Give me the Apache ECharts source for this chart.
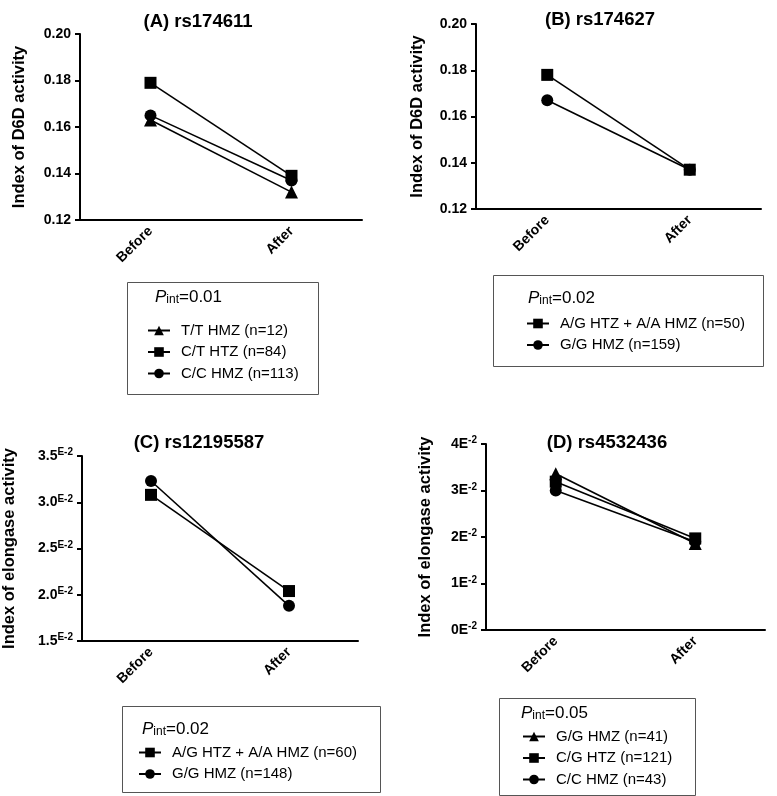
<!DOCTYPE html>
<html><head><meta charset="utf-8">
<script src="https://cdn.jsdelivr.net/npm/echarts@6/dist/echarts.min.js"></script>
<style>html,body{margin:0;padding:0;background:#fff}#c{width:777px;height:796px}</style>
</head><body><div id="c"></div>
<script>
const categories = ['Before', 'After'];

// Panel A: rs174611 (Index of D6D activity)
const namesA = ['T/T HMZ (n=12)', 'C/T HTZ (n=84)', 'C/C HMZ (n=113)'];
const A_TT = [0.163, 0.132];
const A_CT = [0.179, 0.139];
const A_CC = [0.165, 0.137];

// Panel B: rs174627
const namesB = ['A/G HTZ + A/A HMZ (n=50)', 'G/G HMZ (n=159)'];
const B_AG = [0.178, 0.137];
const B_GG = [0.167, 0.137];

// Panel C: rs12195587 (Index of elongase activity)
const namesC = ['A/G HTZ + A/A HMZ (n=60)', 'G/G HMZ (n=148)'];
const C_AG = [0.0308, 0.0204];
const C_GG = [0.0323, 0.0188];

// Panel D: rs4532436
const namesD = ['G/G HMZ (n=41)', 'C/G HTZ (n=121)', 'C/C HMZ (n=43)'];
const D_GG = [0.0336, 0.0186];
const D_CG = [0.0319, 0.0197];
const D_CC = [0.0300, 0.0190];

const pValues = ['0.01', '0.02', '0.02', '0.05'];
const titles = ['(A) rs174611', '(B) rs174627', '(C) rs12195587', '(D) rs4532436'];

const FONT = 'Liberation Sans, Arial, sans-serif';
const grids = [
  {left: 80, top: 34, width: 282, height: 186},
  {left: 476, top: 24, width: 285, height: 185},
  {left: 78, top: 456, width: 280, height: 185},
  {left: 486, top: 444, width: 279, height: 186}
];

function xAxis(i) {
  return {
    type: 'category', gridIndex: i, data: categories, boundaryGap: true,
    axisLine: {lineStyle: {color: '#000', width: 2}},
    axisTick: {alignWithLabel: true, length: 5, lineStyle: {color: '#000', width: 2}},
    axisLabel: {rotate: 45, color: '#000', fontWeight: 'bold', fontSize: 14, fontFamily: FONT, margin: 9},
    splitLine: {show: false}
  };
}
function yAxis(i, min, max, interval, name, gap, fmt) {
  return {
    type: 'value', gridIndex: i, min: min, max: max, interval: interval,
    name: name, nameLocation: 'middle', nameGap: gap,
    nameTextStyle: {color: '#000', fontWeight: 'bold', fontSize: 16.5, fontFamily: FONT},
    axisLine: {show: true, lineStyle: {color: '#000', width: 2}},
    axisTick: {show: true, length: 5, lineStyle: {color: '#000', width: 2}},
    axisLabel: {color: '#000', fontWeight: 'bold', fontSize: 14, fontFamily: FONT, margin: 9, formatter: fmt,
      rich: {
        n: {color: '#000', fontWeight: 'bold', fontSize: 14, fontFamily: FONT},
        s: {color: '#000', fontWeight: 'bold', fontSize: 10, fontFamily: FONT, verticalAlign: 'top', padding: [0, 0, 7, 0]},
        e: {color: '#000', fontWeight: 'bold', fontSize: 14, fontFamily: FONT}
      }},
    splitLine: {show: false}
  };
}

function ser(name, data, sym, size, i) {
  return {
    type: 'line', name: name, data: data, xAxisIndex: i, yAxisIndex: i,
    symbol: sym, symbolSize: size, showSymbol: true,
    lineStyle: {color: '#000', width: 1.6},
    itemStyle: {color: '#000'},
    emphasis: {disabled: true}, animation: false
  };
}

const series = [
  ser(namesA[0], A_TT, 'triangle', 13, 0),
  ser(namesA[2], A_CC, 'circle', 12, 0),
  ser(namesA[1], A_CT, 'rect', 12, 0),
  ser(namesB[1], B_GG, 'circle', 12, 1),
  ser(namesB[0], B_AG, 'rect', 12, 1),
  ser(namesC[1], C_GG, 'circle', 12, 2),
  ser(namesC[0], C_AG, 'rect', 12, 2),
  ser(namesD[0], D_GG, 'triangle', 13, 3),
  ser(namesD[2], D_CC, 'circle', 12, 3),
  ser(namesD[1], D_CG, 'rect', 12, 3)
];

function legend(names, left, top) {
  return {
    data: names, left: left, top: top, orient: 'vertical', padding: 0,
    itemWidth: 22, itemHeight: 12, itemGap: 6.5, selectedMode: false,
    textStyle: {color: '#000', fontSize: 15, fontFamily: FONT, padding: [0, 0, 0, 6]}
  };
}

const boxes = [
  {x: 127, y: 282, w: 191, h: 112, px: 155, py: 296},
  {x: 493, y: 275, w: 270, h: 91, px: 528, py: 297},
  {x: 122, y: 706, w: 258, h: 86, px: 142, py: 728},
  {x: 499, y: 698, w: 196, h: 97, px: 521, py: 712}
];

const graphic = [];
boxes.forEach((b, i) => {
  graphic.push({type: 'rect', shape: {x: b.x + 0.5, y: b.y + 0.5, width: b.w, height: b.h},
    style: {fill: 'none', stroke: '#555', lineWidth: 1}, z: 0});
  graphic.push({type: 'text', x: b.px, y: b.py,
    style: {text: '{p|P}{s|int}{v|=' + pValues[i] + '}', verticalAlign: 'middle',
      rich: {
        p: {fontSize: 17, fontStyle: 'italic', fontFamily: FONT, fill: '#000', verticalAlign: 'bottom'},
        s: {fontSize: 12, fontFamily: FONT, fill: '#000', padding: [8, 0, 0, 0], verticalAlign: 'bottom'},
        v: {fontSize: 17, fontFamily: FONT, fill: '#000', verticalAlign: 'bottom'}
      }}, z: 10});
});

const titleCenters = [[193, 7], [595, 5], [194, 428], [602, 428]];

const option = {
  backgroundColor: '#fff',
  animation: false,
  title: titles.map((t, i) => ({
    text: t, left: titleCenters[i][0], top: titleCenters[i][1], textAlign: 'center',
    textStyle: {color: '#000', fontWeight: 'bold', fontSize: 18.5, fontFamily: FONT}
  })),
  grid: grids,
  xAxis: [0, 1, 2, 3].map(xAxis),
  yAxis: [
    yAxis(0, 0.12, 0.20, 0.02, 'Index of D6D activity', 52, v => v.toFixed(2)),
    yAxis(1, 0.12, 0.20, 0.02, 'Index of D6D activity', 50, v => v.toFixed(2)),
    yAxis(2, 0.015, 0.035, 0.005, 'Index of elongase activity', 64, v => '{n|' + (v * 100).toFixed(1) + '}{s|E-2}'),
    yAxis(3, 0, 0.04, 0.01, 'Index of elongase activity', 52, v => '{e|' + Math.round(v * 100) + 'E}{s|-2}')
  ],
  legend: [
    legend(namesA, 147, 323),
    legend(namesB, 526, 316),
    legend(namesC, 138, 745),
    legend(namesD, 522, 729)
  ],
  graphic: graphic,
  series: series
};

const chart = echarts.init(document.getElementById('c'), null, {renderer: 'canvas'});
chart.setOption(option);
</script>
</body></html>
